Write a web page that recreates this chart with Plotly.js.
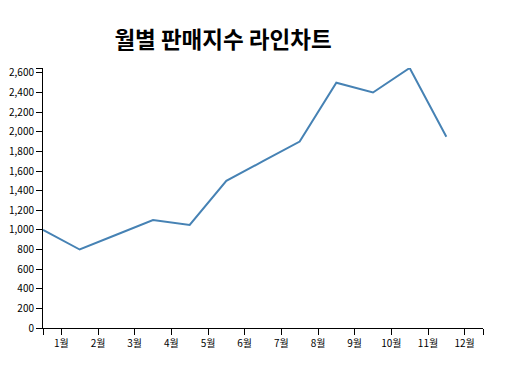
<!DOCTYPE html>
<html>
<head>
<meta charset="utf-8">
<script src="https://cdn.plot.ly/plotly-3.0.1.min.js"></script>
<style>html,body{margin:0;padding:0;background:#fff;}#chart{width:522px;height:368px;}</style>
</head>
<body>
<div id="chart"></div>
<script>
const months = ['1월','2월','3월','4월','5월','6월','7월','8월','9월','10월','11월','12월'];
const sales = [1000, 800, 950, 1100, 1050, 1500, 1700, 1900, 2500, 2400, 2650, 1950];
const yTicks = [0,200,400,600,800,1000,1200,1400,1600,1800,2000,2200,2400,2600];

const n = months.length;
const yMax = Math.max(...sales);
const xIdx = months.map((m, i) => i);

// band-style x axis: labels at band centres, outer ticks at domain ends
const xTickVals = [0].concat(months.map((m, i) => i + 0.5)).concat([n]);
const xTickText = [''].concat(months).concat(['']);
const yTickVals = yTicks.concat([yMax]);
const yTickText = yTicks.map(v => v.toLocaleString('en-US')).concat(['']);

const font = "'Noto Sans CJK KR', 'Noto Sans', sans-serif";

Plotly.newPlot('chart', [{
  x: xIdx,
  y: sales,
  type: 'scatter',
  mode: 'lines',
  line: {color: '#4682b4', width: 2},
  hoverinfo: 'skip'
}], {
  width: 522, height: 368,
  margin: {l: 43, r: 39, t: 68, b: 40},
  paper_bgcolor: '#fff', plot_bgcolor: '#fff',
  showlegend: false,
  title: {
    text: '<b>월별 판매지수 라인차트</b>',
    font: {family: font, size: 22.5, color: '#000'},
    x: 223/522, xanchor: 'center', xref: 'container',
    y: 1 - 40/368, yanchor: 'middle', yref: 'container'
  },
  xaxis: {
    range: [0, n], fixedrange: true,
    tickmode: 'array', tickvals: xTickVals, ticktext: xTickText,
    ticks: 'outside', ticklen: 6, tickcolor: '#000', tickwidth: 1,
    showline: true, linecolor: '#000', linewidth: 1,
    showgrid: false, zeroline: false,
    tickfont: {family: font, size: 10, color: '#000'}
  },
  yaxis: {
    range: [0, yMax], fixedrange: true,
    tickmode: 'array', tickvals: yTickVals, ticktext: yTickText,
    ticks: 'outside', ticklen: 6, tickcolor: '#000', tickwidth: 1,
    showline: true, linecolor: '#000', linewidth: 1,
    showgrid: false, zeroline: false,
    tickfont: {family: font, size: 10, color: '#000'}
  }
}, {staticPlot: true, displayModeBar: false});
</script>
</body>
</html>
